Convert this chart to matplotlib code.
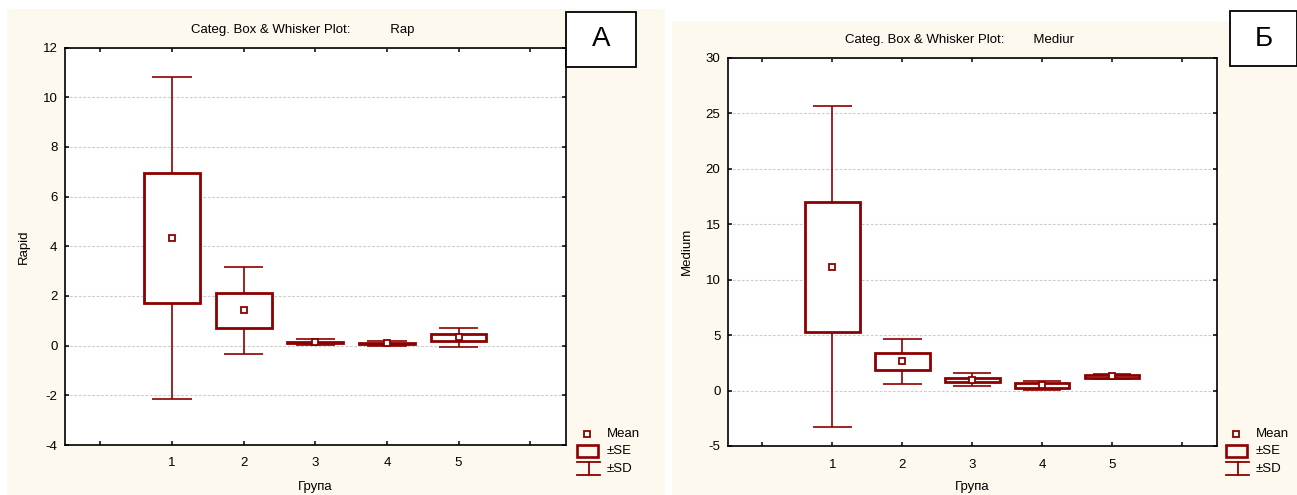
import matplotlib
matplotlib.use("Agg")
import matplotlib.pyplot as plt
from matplotlib.patches import Rectangle
from matplotlib.lines import Line2D

# mean, standard error and standard deviation per group
groups = [1, 2, 3, 4, 5]
rapid_mean = [4.33, 1.42, 0.13, 0.10, 0.33]
rapid_se = [2.62, 0.70, 0.03, 0.02, 0.15]
rapid_sd = [6.47, 1.76, 0.12, 0.10, 0.37]
medium_mean = [11.15, 2.62, 0.97, 0.46, 1.27]
medium_se = [5.86, 0.78, 0.20, 0.20, 0.10]
medium_sd = [14.47, 2.06, 0.60, 0.41, 0.26]

rapid_yticks = [-4, -2, 0, 2, 4, 6, 8, 10, 12]
medium_yticks = [-5, 0, 5, 10, 15, 20, 25, 30]
xtick_labels = ["", "1", "2", "3", "4", "5", ""]

W, H = 1297, 495
RED = "#8b0000"
CREAM = "#fdf9ee"

plt.rcParams["font.family"] = ["Liberation Sans", "DejaVu Sans"]
plt.rcParams["font.size"] = 9.5

fig = plt.figure(figsize=(W / 100, H / 100), dpi=100)


def fx(x):
    return x / W


def fy(y):
    return 1 - y / H


def frect(x0, y0, x1, y1, **kw):
    r = Rectangle((fx(x0), fy(y1)), fx(x1) - fx(x0), (y1 - y0) / H,
                  transform=fig.transFigure, **kw)
    fig.add_artist(r)
    return r


# cream panel backgrounds
frect(7, 9, 665, 495, facecolor=CREAM, edgecolor="none", zorder=-10)
frect(672, 21, 1297, 495, facecolor=CREAM, edgecolor="none", zorder=-10)

panels = [
    dict(box=(64.5, 47.5, 566, 445), mean=rapid_mean, se=rapid_se, sd=rapid_sd,
         ylim=(-4, 12), yticks=rapid_yticks, ylabel="Rapid", ylabel_x=24,
         title="Categ. Box & Whisker Plot:           Rap", title_xy=(191, 30),
         letter="А", letter_box=(566, 12, 636, 67), leg_x=577),
    dict(box=(727.5, 57.5, 1217, 446), mean=medium_mean, se=medium_se, sd=medium_sd,
         ylim=(-5, 30), yticks=medium_yticks, ylabel="Medium", ylabel_x=687,
         title="Categ. Box & Whisker Plot:        Mediur", title_xy=(845, 40),
         letter="Б", letter_box=(1230, 11, 1297, 66), leg_x=1226),
]

for p in panels:
    x0, y0, x1, y1 = p["box"]
    ax = fig.add_axes([fx(x0), fy(y1), fx(x1) - fx(x0), (y1 - y0) / H])
    ax.set_facecolor("white")

    for g, m, s, d in zip(groups, p["mean"], p["se"], p["sd"]):
        ax.add_patch(Rectangle((g - 0.39, m - s), 0.78, 2 * s, facecolor="white",
                               edgecolor=RED, lw=2.0, zorder=3))
        ax.vlines([g, g], [m + s, m - d], [m + d, m - s], color=RED, lw=1.2, zorder=2)
        ax.hlines([m + d, m - d], g - 0.275, g + 0.275, color=RED, lw=1.2, zorder=2)
        ax.plot(g, m, marker="s", ms=4.4, mfc="white", mec=RED, mew=1.3, zorder=4)

    ax.set_xlim(-0.5, 6.5)
    ax.set_ylim(*p["ylim"])
    ax.set_xticks(range(7))
    ax.set_xticklabels(xtick_labels)
    ax.set_yticks(p["yticks"])
    ax.set_yticklabels([str(t) for t in p["yticks"]])
    ax.tick_params(direction="in", top=True, right=True, length=3, width=1.1)
    ax.tick_params(axis="x", pad=9)
    ax.tick_params(axis="y", pad=5)
    ax.yaxis.grid(True, color="#cccccc", linestyle=(0, (2.5, 1.5)), lw=0.8)
    ax.set_axisbelow(True)
    for sp in ax.spines.values():
        sp.set_linewidth(1.2)

    fig.text(fx(p["title_xy"][0]), fy(p["title_xy"][1]), p["title"],
             ha="left", va="center")
    fig.text(fx(p["ylabel_x"]), fy((y0 + y1) / 2), p["ylabel"], rotation=90,
             ha="center", va="center")
    fig.text(fx((x0 + x1) / 2), fy(487), "Група", ha="center", va="center")

    lx0, ly0, lx1, ly1 = p["letter_box"]
    frect(lx0, ly0, lx1, ly1, facecolor="white", edgecolor="black", lw=1.3, zorder=5)
    fig.text(fx((lx0 + lx1) / 2), fy((ly0 + ly1) / 2), p["letter"], fontsize=20,
             ha="center", va="center", zorder=6)

    # legend glyphs
    lx = p["leg_x"]
    fig.add_artist(Line2D([fx(lx + 9.5)], [fy(434)], marker="s", ms=4.4, mfc="white",
                          mec=RED, mew=1.3, transform=fig.transFigure))
    frect(lx, 445, lx + 21, 456.5, facecolor="none", edgecolor=RED, lw=1.9)
    fig.add_artist(Line2D([fx(lx), fx(lx + 23)], [fy(462), fy(462)], color=RED, lw=1.3,
                          transform=fig.transFigure))
    fig.add_artist(Line2D([fx(lx), fx(lx + 23)], [fy(475), fy(475)], color=RED, lw=1.3,
                          transform=fig.transFigure))
    fig.add_artist(Line2D([fx(lx + 11.5), fx(lx + 11.5)], [fy(462), fy(475)], color=RED,
                          lw=1.3, transform=fig.transFigure))
    for ty, txt in zip([434, 451, 469], ["Mean", "±SE", "±SD"]):
        fig.text(fx(lx + 30), fy(ty), txt, ha="left", va="center")

fig.savefig("out.png", dpi=100)
